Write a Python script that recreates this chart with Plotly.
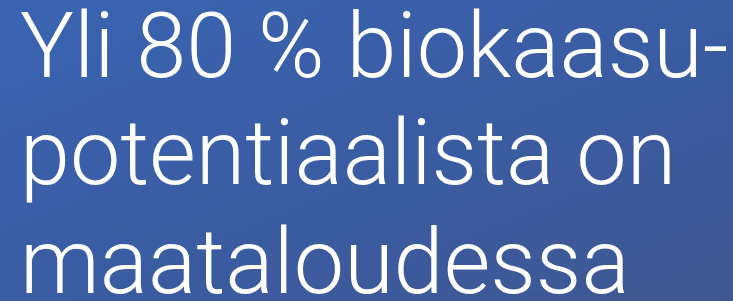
import plotly.graph_objects as go

lines = ["Yli 80 % biokaasu-", "potentiaalista on", "maataloudessa"]
baselines = [78, 185, 294]
font_size = 90

W, H = 733, 301

fig = go.Figure()
fig.add_trace(go.Heatmap(
    x=[0, W], y=[0, H], z=[[0, 0.5], [0.5, 1]],
    zsmooth="best", showscale=False, hoverinfo="skip",
    colorscale=[[0, "#3a64b2"], [0.5, "#3a5ca3"], [1, "#3f5791"]],
))

for t, b in zip(lines, baselines):
    fig.add_annotation(
        x=18 / W, y=1 - (b + font_size * 0.26) / H, xref="paper", yref="paper",
        text=t, showarrow=False, xanchor="left", yanchor="bottom",
        font=dict(family="Roboto", size=font_size, color="white", weight=300),
    )

fig.update_layout(
    width=W, height=H, margin=dict(l=0, r=0, t=0, b=0),
    xaxis=dict(range=[0, W], visible=False, fixedrange=True),
    yaxis=dict(range=[H, 0], visible=False, fixedrange=True),
    plot_bgcolor="#3a5ca3", paper_bgcolor="#3a5ca3",
)
fig.write_html("out.html", config={"displayModeBar": False},
               post_script="document.body.style.margin='0';document.body.style.background='#3a5ca3';")
